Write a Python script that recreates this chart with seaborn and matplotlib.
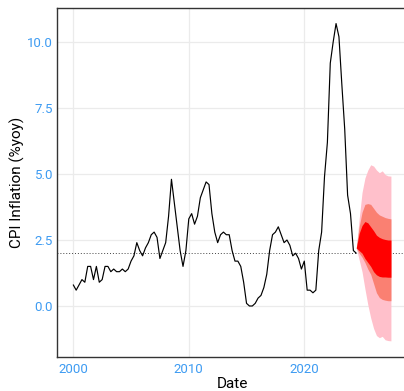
import numpy as np
import pandas as pd
import matplotlib
matplotlib.use("Agg")
import matplotlib.pyplot as plt
import seaborn as sns

# ---- data: UK CPI inflation, quarterly (% yoy), 2000Q1 .. 2024Q3 ----
start_year = 2000
cpi = [0.8, 0.6, 0.8, 1.0,
       0.9, 1.5, 1.5, 1.0,
       1.5, 0.9, 1.0, 1.5,
       1.5, 1.3, 1.4, 1.3,
       1.3, 1.4, 1.3, 1.4,
       1.7, 1.9, 2.4, 2.1,
       1.9, 2.2, 2.4, 2.7,
       2.8, 2.6, 1.8, 2.1,
       2.4, 3.4, 4.8, 3.9,
       3.0, 2.1, 1.5, 2.1,
       3.3, 3.5, 3.1, 3.4,
       4.1, 4.4, 4.7, 4.6,
       3.5, 2.8, 2.4, 2.7,
       2.8, 2.7, 2.7, 2.1,
       1.7, 1.7, 1.5, 0.9,
       0.1, 0.0, 0.0, 0.1,
       0.3, 0.4, 0.7, 1.2,
       2.1, 2.7, 2.8, 3.0,
       2.7, 2.4, 2.5, 2.3,
       1.9, 2.0, 1.8, 1.4,
       1.7, 0.6, 0.6, 0.5,
       0.6, 2.1, 2.8, 4.9,
       6.2, 9.2, 10.0, 10.7,
       10.2, 8.4, 6.7, 4.2,
       3.5, 2.1, 2.0]

# ---- fan chart (forecast bands), quarterly from 2024Q3 ----
fan_start = 2024.5
outer_hi = [2.2, 3.3, 4.3, 4.85, 5.15, 5.35, 5.3, 5.15, 5.05, 5.12, 4.98, 4.93, 4.92]
outer_lo = [2.2, 1.75, 1.3, 0.65, 0.05, -0.45, -0.85, -1.12, -1.2, -1.15, -1.28, -1.31, -1.32]
mid_hi = [2.2, 3.0, 3.55, 3.85, 3.88, 3.85, 3.7, 3.55, 3.45, 3.4, 3.35, 3.32, 3.3]
mid_lo = [2.2, 2.0, 1.85, 1.65, 1.4, 1.2, 0.85, 0.5, 0.32, 0.25, 0.22, 0.2, 0.2]
inner_hi = [2.2, 2.75, 3.05, 3.2, 3.15, 3.0, 2.85, 2.68, 2.6, 2.55, 2.52, 2.5, 2.5]
inner_lo = [2.2, 2.1, 2.0, 1.8, 1.65, 1.5, 1.3, 1.18, 1.12, 1.1, 1.1, 1.09, 1.09]

target = 2.0
x_ticks = [2000, 2010, 2020]
y_ticks = [0.0, 2.5, 5.0, 7.5, 10.0]

dates = start_year + 0.25 * np.arange(len(cpi))
fan_dates = fan_start + 0.25 * np.arange(len(outer_hi))
df = pd.DataFrame({"Date": dates, "CPI": cpi})

sns.set_theme(style="white")
plt.rcParams['font.family'] = ['Roboto', 'DejaVu Sans']

W, H = 404, 391
fig = plt.figure(figsize=(W / 100, H / 100), dpi=100)

# limits with ggplot-like 5% expansion
xmin, xmax = dates.min(), fan_dates.max()
allv = np.concatenate([cpi, outer_hi, outer_lo])
ymin, ymax = allv.min(), allv.max()
xr, yr = xmax - xmin, ymax - ymin
xlim = (xmin - 0.05 * xr, xmax + 0.05 * xr)
ylim = (ymin - 0.05 * yr, ymax + 0.05 * yr)

ax = fig.add_axes([57.4 / W, 34.3 / H, 349.4 / W, 349.0 / H])

ax.axhline(target, color="#444444", lw=0.7, ls=(0, (1, 2)), zorder=1.5)

ax.fill_between(fan_dates, outer_lo, outer_hi, color="pink", lw=0, zorder=2)
ax.fill_between(fan_dates, mid_lo, mid_hi, color="salmon", lw=0, zorder=2.1)
ax.fill_between(fan_dates, inner_lo, inner_hi, color="red", lw=0, zorder=2.2)

sns.lineplot(data=df, x="Date", y="CPI", color="black", lw=0.85, ax=ax, zorder=3)

ax.set_xlim(*xlim)
ax.set_ylim(*ylim)
ax.set_xticks(x_ticks)
ax.set_xticklabels([str(t) for t in x_ticks])
ax.set_yticks(y_ticks)
ax.set_yticklabels([f"{t:.1f}" for t in y_ticks])

ax.grid(True, color="#EBEBEB", lw=0.9)
ax.set_axisbelow(True)
for s in ax.spines.values():
    s.set_color("#333333")
    s.set_linewidth(1.0)
ax.spines["right"].set_visible(False)

blue = "#3D9BF2"
ax.tick_params(axis="both", length=0, labelsize=9.5, labelcolor=blue)
ax.tick_params(axis="x", pad=4.5)
ax.tick_params(axis="y", pad=3)
ax.set_xlabel("Date", fontsize=11, color="black", labelpad=1)
ax.set_ylabel("CPI Inflation (%yoy)", fontsize=11, color="black", labelpad=1.5)

fig.savefig("out.png", dpi=100)
